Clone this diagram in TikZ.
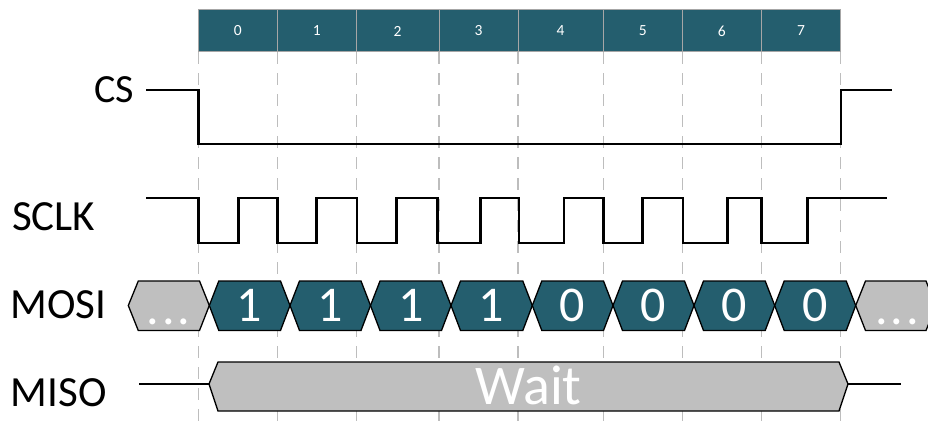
\documentclass[tikz,border=0pt]{standalone}
\usepackage{fontspec}
\setmainfont{Carlito}
\definecolor{teal1}{HTML}{245E6E}
\definecolor{grayfill}{HTML}{BFBFBF}
\definecolor{gridgray}{HTML}{BDBDBD}
\tikzset{
  hdrcell/.style={draw=gray!70, line width=0.8pt, fill=teal1},
  hdrtext/.style={text=white, font=\fontsize{15.5}{17}\selectfont, inner sep=0pt},
  gridline/.style={gridgray, line width=1.1pt, dash pattern=on 12pt off 9pt},
  wave/.style={black, line width=2.6pt, line join=miter},
  thinwave/.style={black, line width=1.8pt},
  hexteal/.style={fill=teal1, draw=black, line width=1.3pt, line join=miter},
  hexgray/.style={fill=grayfill, draw=black, line width=1.3pt, line join=miter},
  siglabel/.style={anchor=base west, inner sep=0pt, font=\fontsize{43}{50}\selectfont},
  bittext/.style={anchor=base, inner sep=0pt, text=white, font=\fontsize{50}{56}\selectfont},
}
\begin{document}
\begin{tikzpicture}[x=1pt, y=-1pt]
\useasboundingbox (0,0) rectangle (928,421);
\fill[white] (0,0) rectangle (928,421);
% dashed guide lines
\foreach \x in {198.5,277.3,356.3,439,518,603.3,682.3,761.3,840.7}
  \draw[gridline] (\x,52) -- (\x,421);
% header cells
\foreach \a/\b/\n in {198.5/277.3/0, 277.3/356.3/1, 356.3/439/2, 439/518/3, 518/603.3/4, 603.3/682.3/5, 682.3/761.3/6, 761.3/840.7/7}{
  \draw[hdrcell] (\a,9) rectangle (\b,51.7);
  \node[hdrtext] (h\n) at ({(\a+\b)/2},31) {\n};
}
% labels
\node[siglabel, font=\fontsize{40}{46}\selectfont] (cs) at (94,102) {CS};
\node[siglabel] (sclk) at (12,230) {SCLK};
\node[siglabel] (mosi) at (10.5,318) {MOSI};
\node[siglabel] (miso) at (10.5,406.7) {MISO};
% CS waveform
\draw[wave] (146,90) -- (198.5,90) -- (198.5,144) -- (841,144) -- (841,90) -- (892,90);
% SCLK waveform
\draw[wave] (146,198) -- (198.5,198) -- (198.5,243) -- (238.7,243) -- (238.7,198)
  -- (277.3,198) -- (277.3,243) -- (316.7,243) -- (316.7,198)
  -- (357,198) -- (357,243) -- (396.7,243) -- (396.7,198)
  -- (437.7,198) -- (437.7,243) -- (480.7,243) -- (480.7,198)
  -- (519,198) -- (519,243) -- (564,243) -- (564,198)
  -- (603.3,198) -- (603.3,243) -- (642.3,243) -- (642.3,198)
  -- (683,198) -- (683,243) -- (727.3,243) -- (727.3,198)
  -- (761.3,198) -- (761.3,243) -- (807.3,243) -- (807.3,198)
  -- (887,198);
% MOSI hexagons
\draw[hexgray] (128.3,305.5) -- (138.3,281) -- (199.5,281) -- (209.3,305.5) -- (199.5,330.5) -- (138.3,330.5) -- cycle;
\node[bittext] (dl) at (168.7,324) {.\hspace{3pt}.\hspace{3pt}.};
\foreach \a/\b/\v/\i in {209.3/290/1/0, 290/370.5/1/1, 370.5/451/1/2, 451/532.3/1/3, 532.3/613/0/4, 613/694/0/5, 694/774.7/0/6, 774.7/855.7/0/7}{
  \draw[hexteal] (\a,305.5) -- ({\a+9.5},281) -- ({\b-9.5},281) -- (\b,305.5) -- ({\b-9.5},330.5) -- ({\a+9.5},330.5) -- cycle;
  \node[bittext] (b\i) at ({(\a+\b)/2},321) {\v};
}
\draw[hexgray] (855.7,305.5) -- (865.5,281) -- (926,281) -- (936,305.5) -- (926,330.5) -- (865.5,330.5) -- cycle;
\node[bittext] (dr) at (897,324) {.\hspace{3pt}.\hspace{3pt}.};
% MISO
\draw[thinwave] (139.3,384) -- (209,384);
\draw[thinwave] (848,384) -- (901.3,384);
\draw[hexgray] (209,384) -- (218,362) -- (839,362) -- (848,384) -- (839,411) -- (218,411) -- cycle;
\node[anchor=base, inner sep=0pt, text=white, font=\fontsize{56}{62}\selectfont] (wait) at (528.5,404) {Wait};
\end{tikzpicture}
\end{document}
